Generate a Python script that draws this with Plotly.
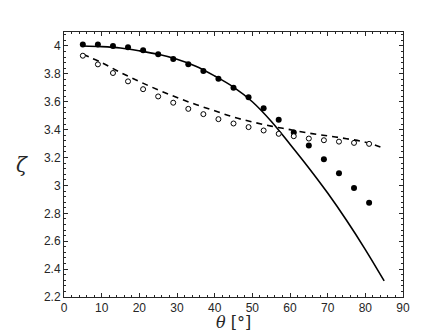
import plotly.graph_objects as go

# measured points (every 4 degrees)
theta_pts = [5, 9, 13, 17, 21, 25, 29, 33, 37, 41, 45, 49, 53, 57, 61, 65, 69, 73, 77, 81]
zeta_filled = [4.01, 4.01, 4.00, 3.99, 3.97, 3.94, 3.907, 3.868, 3.82, 3.765, 3.70, 3.633,
               3.554, 3.47, 3.379, 3.286, 3.188, 3.087, 2.981, 2.876]
zeta_open = [3.93, 3.868, 3.806, 3.746, 3.69, 3.638, 3.593, 3.549, 3.511, 3.475, 3.444,
             3.418, 3.394, 3.37, 3.353, 3.336, 3.324, 3.314, 3.305, 3.298]

# model curves
theta_line = [5, 10, 15, 20, 25, 30, 35, 40, 45, 50, 55, 60, 65, 70, 75, 80, 85]
zeta_solid = [4.00, 3.995, 3.985, 3.965, 3.94, 3.905, 3.855, 3.785, 3.705, 3.60, 3.46,
              3.295, 3.125, 2.945, 2.75, 2.54, 2.315]
theta_dash = [5, 10, 15, 20, 25, 30, 35, 40, 45, 50, 55, 60, 65, 70, 75, 80, 84]
zeta_dash = [3.94, 3.88, 3.81, 3.745, 3.685, 3.63, 3.58, 3.535, 3.49, 3.455, 3.425,
             3.40, 3.375, 3.355, 3.335, 3.31, 3.275]

ink = "#262626"

fig = go.Figure()
fig.add_trace(go.Scatter(x=theta_line, y=zeta_solid, mode="lines", line_shape="spline",
                         line=dict(color="black", width=1.6)))
fig.add_trace(go.Scatter(x=theta_dash, y=zeta_dash, mode="lines", line_shape="spline",
                         line=dict(color="black", width=1.6, dash="6px,5px")))
fig.add_trace(go.Scatter(x=theta_pts, y=zeta_filled, mode="markers",
                         marker=dict(color="black", size=6, line=dict(width=0))))
fig.add_trace(go.Scatter(x=theta_pts, y=zeta_open, mode="markers",
                         marker=dict(color="white", size=5, line=dict(color="black", width=1))))

axis_common = dict(showgrid=False, zeroline=False, showline=True, linecolor=ink, linewidth=1,
                   mirror="ticks", ticks="inside", ticklen=4, tickcolor=ink,
                   tickfont=dict(family="Liberation Sans, Arial", size=12, color=ink))

fig.update_xaxes(range=[0, 90], dtick=10,
                 minor=dict(dtick=2, ticks="inside", ticklen=2, tickcolor=ink),
                 **axis_common)
fig.update_yaxes(range=[2.2, 4.1], tickvals=[2.2, 2.4, 2.6, 2.8, 3, 3.2, 3.4, 3.6, 3.8, 4],
                 ticktext=["2.2", "2.4", "2.6", "2.8", "3", "3.2", "3.4", "3.6", "3.8", "4"],
                 minor=dict(dtick=0.04, ticks="inside", ticklen=2, tickcolor=ink),
                 **axis_common)

fig.add_annotation(text="<i>θ</i> [°]", xref="paper", yref="paper", x=0.5, y=-0.095,
                   yanchor="middle", showarrow=False,
                   font=dict(family="DejaVu Serif, Liberation Serif", size=16, color=ink))
fig.add_annotation(text="<i>ζ</i>", xref="paper", yref="paper", x=-0.1, y=0.5,
                   xanchor="right", showarrow=False,
                   font=dict(family="DejaVu Serif, Liberation Serif", size=20, color=ink))

fig.update_layout(width=436, height=333, showlegend=False,
                  margin=dict(l=56, r=41, t=24, b=44),
                  paper_bgcolor="white", plot_bgcolor="white")

fig.write_html("out.html")
